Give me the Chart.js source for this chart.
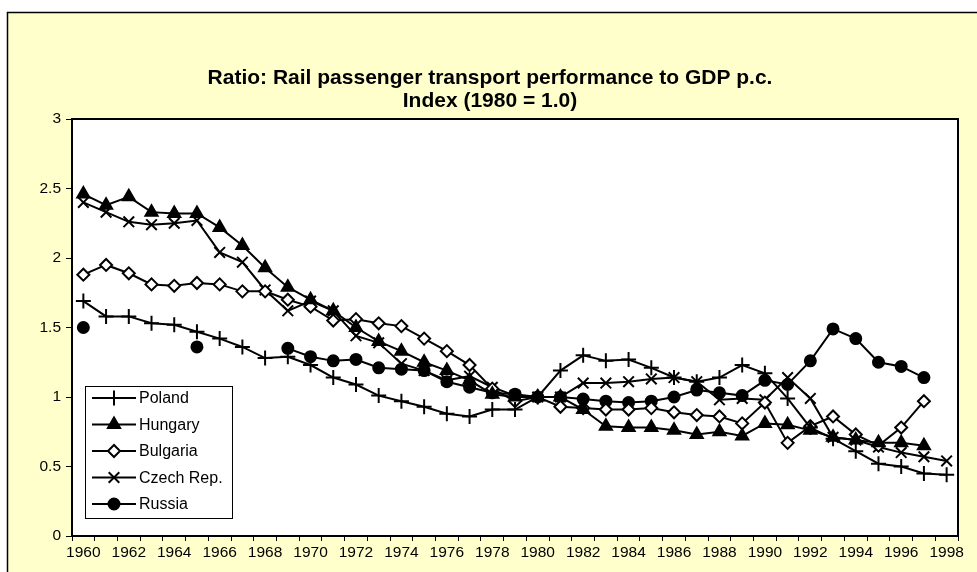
<!DOCTYPE html>
<html>
<head>
<meta charset="utf-8">
<script src="https://cdn.jsdelivr.net/npm/chart.js@4/dist/chart.umd.min.js"></script>
<style>
  html, body { margin: 0; padding: 0; background: #ffffff; }
  #wrap { width: 977px; height: 572px; position: relative; }
</style>
</head>
<body>
<div id="wrap"><canvas id="c" width="977" height="572"></canvas></div>
<script>
const years = [];
for (let y = 1960; y <= 1998; y++) years.push(String(y));

const titleLines = ["Ratio: Rail passenger transport performance to GDP p.c.", "Index (1980 = 1.0)"];

const poland = [1.69,1.58,1.58,1.53,1.52,1.47,1.42,1.36,1.28,1.29,
                1.23,1.14,1.09,1.01,0.97,0.93,0.88,0.86,0.91,0.91,
                1.00,1.19,1.30,1.26,1.27,1.21,1.14,1.11,1.14,1.23,
                1.17,0.99,0.78,0.70,0.61,0.52,0.50,0.45,0.44];
const hungary = [2.46,2.38,2.44,2.33,2.32,2.32,2.22,2.09,1.93,1.79,
                 1.70,1.62,1.50,1.40,1.33,1.25,1.19,1.12,1.02,1.00,
                 1.00,1.00,0.91,0.79,0.78,0.78,0.76,0.73,0.75,0.72,
                 0.81,0.80,0.76,0.71,0.69,0.67,0.67,0.65,null];
const bulgaria = [1.88,1.95,1.89,1.81,1.80,1.82,1.81,1.76,1.76,1.70,
                  1.65,1.55,1.56,1.53,1.51,1.42,1.33,1.23,1.06,0.97,
                  1.00,0.93,0.92,0.91,0.91,0.92,0.89,0.87,0.86,0.81,
                  0.96,0.67,0.79,0.86,0.73,0.65,0.78,0.97,null];
const czech = [2.40,2.33,2.26,2.24,2.25,2.27,2.04,1.97,1.77,1.62,
               1.69,1.62,1.44,1.39,1.24,1.19,1.12,1.15,1.07,1.01,
               1.00,1.00,1.10,1.10,1.11,1.13,1.14,1.11,0.98,0.99,
               0.98,1.14,0.99,0.71,0.69,0.64,0.60,0.57,0.54];
const russia = [1.50,null,null,null,null,1.36,null,null,null,1.35,
                1.29,1.26,1.27,1.21,1.20,1.19,1.11,1.07,1.03,1.02,
                1.00,1.00,0.985,0.97,0.96,0.97,1.00,1.05,1.03,1.01,
                1.12,1.09,1.26,1.49,1.42,1.25,1.22,1.14,null];

const seriesNames = ["Poland", "Hungary", "Bulgaria", "Czech Rep.", "Russia"];
const seriesData = [poland, hungary, bulgaria, czech, russia];
const styles = [
  { pointStyle: 'cross', radius: 7.5, fill: '#000000' },
  { pointStyle: 'triangle', radius: 7, fill: '#000000' },
  { pointStyle: 'rectRot', radius: 6, fill: '#ffffff' },
  { pointStyle: 'crossRot', radius: 7.5, fill: '#000000' },
  { pointStyle: 'circle', radius: 5.5, fill: '#000000' }
];

const FONT = "Arial, 'Liberation Sans', sans-serif";

const datasets = seriesNames.map((name, i) => ({
  label: name,
  data: seriesData[i],
  borderColor: '#000000',
  backgroundColor: styles[i].fill,
  borderWidth: 2,
  pointStyle: styles[i].pointStyle,
  pointRadius: styles[i].radius,
  pointHoverRadius: styles[i].radius,
  pointBorderColor: '#000000',
  pointBackgroundColor: styles[i].fill,
  pointBorderWidth: 2,
  tension: 0,
  spanGaps: false
}));

const decor = {
  id: 'decor',
  beforeDraw(chart) {
    const ctx = chart.ctx;
    const a = chart.chartArea;
    ctx.save();
    ctx.fillStyle = '#ffffff';
    ctx.fillRect(0, 0, chart.width, chart.height);
    ctx.fillStyle = '#FFFFCC';
    ctx.fillRect(7, 12, chart.width, chart.height);
    ctx.strokeStyle = '#000000';
    ctx.lineWidth = 1.5;
    ctx.beginPath();
    ctx.moveTo(7.5, chart.height + 5);
    ctx.lineTo(7.5, 12.5);
    ctx.lineTo(chart.width + 5, 12.5);
    ctx.stroke();
    ctx.fillStyle = '#ffffff';
    ctx.fillRect(a.left, a.top, a.right - a.left, a.bottom - a.top);
    // title
    ctx.fillStyle = '#000000';
    ctx.font = "bold 21px " + FONT;
    ctx.textAlign = 'center';
    ctx.textBaseline = 'middle';
    ctx.fillText(titleLines[0], 490, 78);
    ctx.fillText(titleLines[1], 490, 101);
    ctx.restore();
  },
  afterDraw(chart) {
    const ctx = chart.ctx;
    const a = chart.chartArea;
    ctx.save();
    // plot border
    ctx.strokeStyle = '#000000';
    ctx.lineWidth = 2;
    ctx.strokeRect(a.left, a.top, a.right - a.left, a.bottom - a.top);
    // legend
    const lx = 85, ly = 386, lw = 147, lh = 132;
    ctx.fillStyle = '#ffffff';
    ctx.fillRect(lx, ly, lw, lh);
    ctx.lineWidth = 1;
    ctx.strokeStyle = '#000000';
    ctx.strokeRect(lx + 0.5, ly + 0.5, lw, lh);
    ctx.font = "16px " + FONT;
    ctx.textAlign = 'left';
    ctx.textBaseline = 'middle';
    seriesNames.forEach((name, i) => {
      const y = 398 + i * 26.5;
      ctx.strokeStyle = '#000000';
      ctx.lineWidth = 2;
      ctx.beginPath();
      ctx.moveTo(92, y);
      ctx.lineTo(136, y);
      ctx.stroke();
      ctx.fillStyle = styles[i].fill;
      ctx.lineWidth = 2;
      Chart.helpers.drawPoint(ctx, {
        pointStyle: styles[i].pointStyle,
        radius: styles[i].radius,
        borderWidth: 2,
        rotation: 0
      }, 114, y);
      ctx.fillStyle = '#000000';
      ctx.fillText(name, 139, y + 1);
    });
    ctx.restore();
  }
};

new Chart(document.getElementById('c'), {
  type: 'line',
  data: { labels: years, datasets: datasets },
  options: {
    responsive: false,
    animation: false,
    events: [],
    layout: { padding: { top: 119, right: 19, left: 0, bottom: 0 } },
    plugins: {
      legend: { display: false },
      title: { display: false },
      tooltip: { enabled: false }
    },
    scales: {
      x: {
        type: 'category',
        offset: true,
        grid: {
          offset: true,
          drawOnChartArea: false,
          drawTicks: true,
          tickLength: 5,
          color: '#000000',
          lineWidth: 1
        },
        border: { display: true, color: '#000000', width: 2 },
        ticks: {
          autoSkip: false,
          maxRotation: 0,
          minRotation: 0,
          padding: 2,
          color: '#000000',
          font: { family: FONT, size: 15.5 },
          callback: function(val, idx) { return idx % 2 === 0 ? this.getLabelForValue(val) : ''; }
        },
        afterFit: (s) => { s.height = 36; }
      },
      y: {
        min: 0,
        max: 3,
        grid: {
          drawOnChartArea: false,
          drawTicks: true,
          tickLength: 6,
          color: '#000000',
          lineWidth: 1
        },
        border: { display: true, color: '#000000', width: 2 },
        ticks: {
          stepSize: 0.5,
          padding: 5,
          color: '#000000',
          font: { family: FONT, size: 15.5 },
          callback: (v) => String(Number(v))
        },
        afterFit: (s) => { s.width = 72; }
      }
    }
  },
  plugins: [decor]
});
</script>
</body>
</html>
